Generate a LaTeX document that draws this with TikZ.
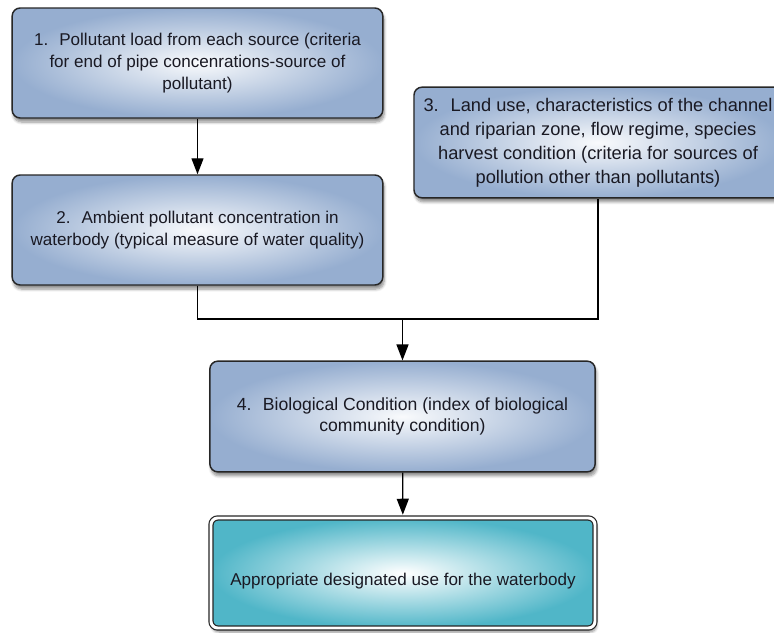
\documentclass[tikz,border=0pt]{standalone}
\usepackage{fontspec}
\setmainfont{Liberation Sans}
\usetikzlibrary{arrows.meta, shadows.blur}

\definecolor{boxblue}{RGB}{150,174,208}
\definecolor{boxteal}{RGB}{80,182,200}
\definecolor{txtdark}{RGB}{25,25,35}

\tikzset{
  textdrop/.style={execute at begin node={\rule{0pt}{#1}}},
  stagebox/.style={rectangle, rounded corners=6pt, draw=black!85, line width=1.1pt,
    inner color=white!94!boxblue, outer color=boxblue, align=center, text=txtdark,
    font=\fontsize{12.8}{16.5}\selectfont, textdrop=18pt,
    blur shadow={shadow xshift=1pt, shadow yshift=-3pt, shadow blur steps=6, shadow opacity=45}},
  usebox/.style={stagebox, inner color=white, outer color=boxteal, draw=black!85,
    double=white, double distance=2.2pt, line width=0.9pt, rounded corners=5pt},
  flow/.style={-{Triangle[length=12pt,width=9pt]}, line width=1pt},
  joint/.style={line width=1pt}
}

\begin{document}
\begin{tikzpicture}[x=0.75pt, y=-0.75pt]
    \useasboundingbox (0,0) rectangle (774,632);

    % stages
    \node[stagebox, minimum width=278pt, minimum height=82.5pt] (load) at (197.5,63)
        {1.~ Pollutant load from each source (criteria\\
         for end of pipe concenrations-source of\\ pollutant)};
    \node[stagebox, minimum width=278pt, minimum height=82.5pt] (conc) at (197.5,230)
        {2.~ Ambient pollutant concentration in\\
         waterbody (typical measure of water quality)};
    \node[stagebox, minimum width=276pt, minimum height=83pt, inner ysep=1pt, textdrop=20pt,
          font=\fontsize{13.7}{18}\selectfont] (landuse) at (598,142.5)
        {3.~ Land use, characteristics of the channel\\
         and riparian zone, flow regime, species\\
         harvest condition (criteria for sources of\\
         pollution other than pollutants)};
    \node[stagebox, minimum width=289pt, minimum height=83pt, textdrop=20pt,
          font=\fontsize{13.2}{16}\selectfont] (biocond) at (402.5,416.5)
        {4.~ Biological Condition (index of biological\\ community condition)};
    \node[usebox, minimum width=288pt, minimum height=82.5pt, textdrop=22pt] (desuse) at (403,573)
        {Appropriate designated use for the waterbody};

    % connectors
    \coordinate (merge) at (402.5,319);
    \draw[flow] (load) -- (conc);
    \draw[joint] (conc.south) |- (merge) -| (landuse.south);
    \draw[flow] (merge) -- (biocond);
    \draw[flow, shorten >=2pt] (biocond) -- (desuse);
\end{tikzpicture}
\end{document}
